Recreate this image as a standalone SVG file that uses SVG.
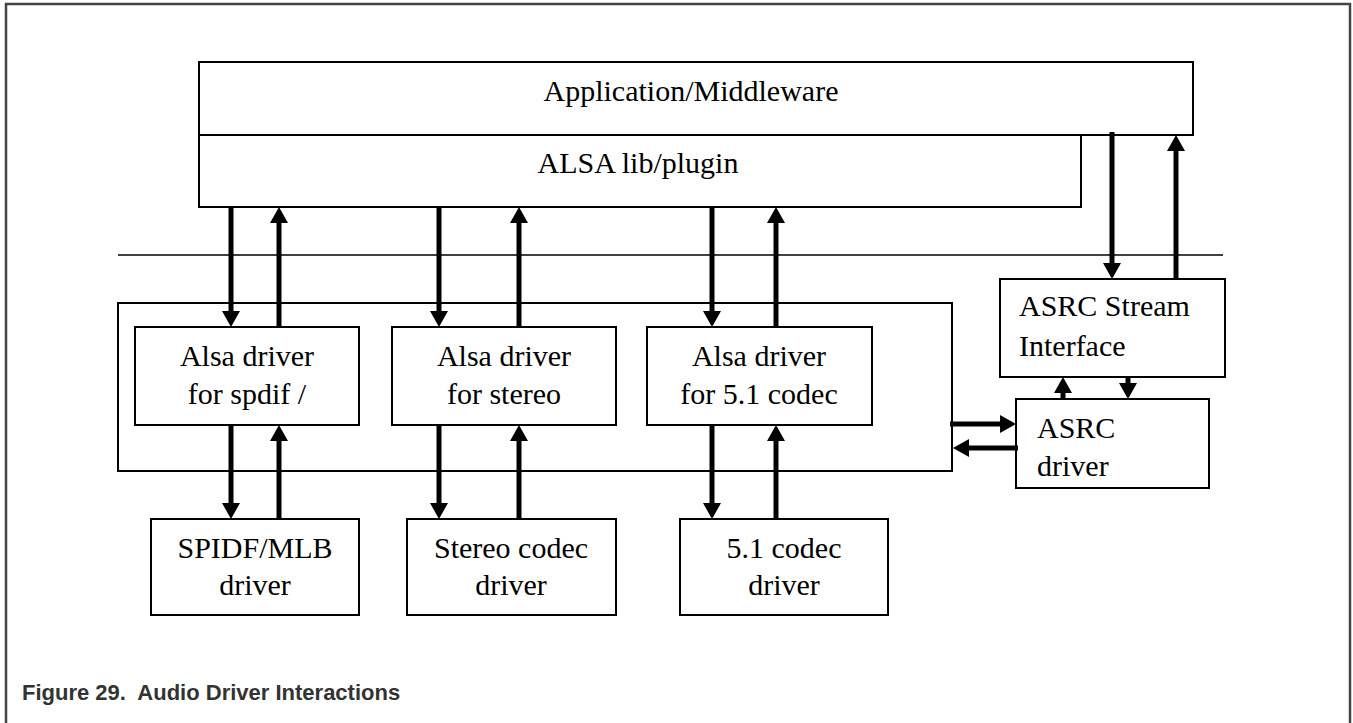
<svg xmlns="http://www.w3.org/2000/svg" width="1353" height="723" viewBox="0 0 1353 723">
<style>
.box{fill:#fff;stroke:#000;stroke-width:2}
.t{font-family:"Liberation Serif",serif;font-size:30px;fill:#000;text-anchor:middle}
.tl{font-family:"Liberation Serif",serif;font-size:30px;fill:#000}
.arr{stroke:#000;stroke-width:5;fill:none;marker-end:url(#ah)}
.cap{font-family:"Liberation Sans",Arial,sans-serif;font-size:22px;font-weight:bold;fill:#333;white-space:pre}
</style>
<defs>
<marker id="ah" markerUnits="userSpaceOnUse" viewBox="0 0 16 18" refX="0" refY="9" markerWidth="16" markerHeight="18" orient="auto">
<path d="M0,0 L16,9 L0,18 Z" fill="#000"/>
</marker>
</defs>
<rect x="0" y="0" width="1353" height="723" fill="#fff"/>
<rect x="6" y="4" width="1344" height="760" fill="none" stroke="#444" stroke-width="2.5"/>

<g id="app"><rect class="box" x="199" y="62" width="994" height="73"/><text class="t" x="691" y="101">Application/Middleware</text></g>
<g id="alsalib"><rect class="box" x="199" y="135" width="882" height="72"/><text class="t" x="638" y="173">ALSA lib/plugin</text></g>
<line id="separator" x1="118" y1="255" x2="1223" y2="255" stroke="#000" stroke-width="1.5"/>
<g id="container"><rect class="box" x="118" y="303" width="834" height="168"/></g>
<g id="alsa1"><rect class="box" x="135" y="327" width="224" height="98"/><text class="t" x="247" y="366">Alsa driver</text><text class="t" x="247" y="404">for spdif /</text></g>
<g id="alsa2"><rect class="box" x="392" y="327" width="224" height="98"/><text class="t" x="504" y="366">Alsa driver</text><text class="t" x="504" y="404">for stereo</text></g>
<g id="alsa3"><rect class="box" x="647" y="327" width="225" height="98"/><text class="t" x="759" y="366">Alsa driver</text><text class="t" x="759" y="404">for 5.1 codec</text></g>
<g id="spdif"><rect class="box" x="151" y="519" width="208" height="96"/><text class="t" x="255" y="558">SPIDF/MLB</text><text class="t" x="255" y="595">driver</text></g>
<g id="stereo"><rect class="box" x="407" y="519" width="209" height="96"/><text class="t" x="511" y="558">Stereo codec</text><text class="t" x="511" y="595">driver</text></g>
<g id="codec51"><rect class="box" x="680" y="519" width="208" height="96"/><text class="t" x="784" y="558">5.1 codec</text><text class="t" x="784" y="595">driver</text></g>
<g id="asrcstream"><rect class="box" x="1000" y="279" width="225" height="98"/><text class="tl" x="1019" y="316">ASRC Stream</text><text class="tl" x="1019" y="356">Interface</text></g>
<g id="asrcdriver"><rect class="box" x="1016" y="399" width="193" height="89"/><text class="tl" x="1037" y="438">ASRC</text><text class="tl" x="1037" y="476">driver</text></g>

<g id="connectors">
<line class="arr" x1="231" y1="207" x2="231" y2="311"/>
<line class="arr" x1="279" y1="327" x2="279" y2="223"/>
<line class="arr" x1="439" y1="207" x2="439" y2="311"/>
<line class="arr" x1="519" y1="327" x2="519" y2="223"/>
<line class="arr" x1="712" y1="207" x2="712" y2="311"/>
<line class="arr" x1="776" y1="327" x2="776" y2="223"/>
<line class="arr" x1="231" y1="425" x2="231" y2="503"/>
<line class="arr" x1="279" y1="519" x2="279" y2="441"/>
<line class="arr" x1="439" y1="425" x2="439" y2="503"/>
<line class="arr" x1="519" y1="519" x2="519" y2="441"/>
<line class="arr" x1="712" y1="425" x2="712" y2="503"/>
<line class="arr" x1="776" y1="519" x2="776" y2="441"/>
<line class="arr" x1="1112" y1="132" x2="1112" y2="263"/>
<line class="arr" x1="1176" y1="279" x2="1176" y2="151"/>
<line class="arr" x1="1063" y1="399" x2="1063" y2="393"/>
<line class="arr" x1="1128" y1="377" x2="1128" y2="383"/>
<line class="arr" x1="950" y1="424" x2="1000" y2="424"/>
<line class="arr" x1="1018" y1="448" x2="969" y2="448"/>
</g>

<text class="cap" x="22" y="700" xml:space="preserve">Figure 29.  Audio Driver Interactions</text>
</svg>
